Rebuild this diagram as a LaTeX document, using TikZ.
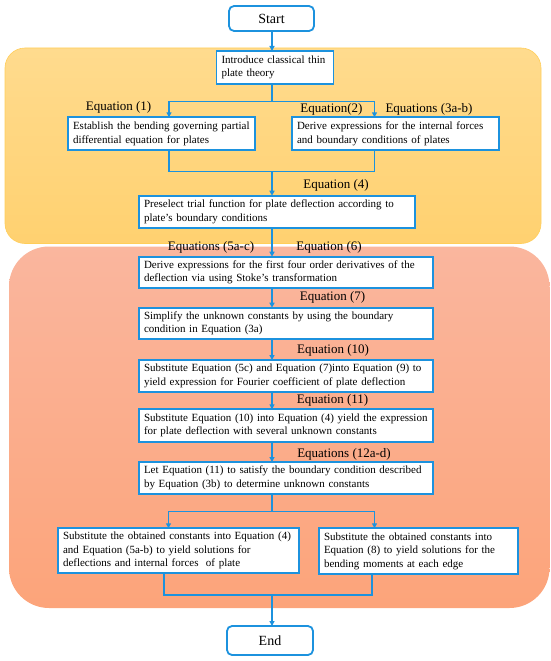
\documentclass[tikz,border=0pt]{standalone}
\usepackage{fontspec}
\setmainfont{Liberation Serif}
\usetikzlibrary{arrows.meta}
\definecolor{flowblue}{RGB}{28,146,222}
\definecolor{yelA}{RGB}{255,219,142}
\definecolor{yelB}{RGB}{255,209,112}
\definecolor{yelLine}{RGB}{255,206,90}
\definecolor{orA}{RGB}{250,182,158}
\definecolor{orB}{RGB}{252,164,122}
\begin{document}
\begin{tikzpicture}[x=1pt,y=-1pt,
  box/.style={draw=flowblue, line width=1.8pt, fill=white, inner xsep=5pt, inner ysep=0pt,
    outer sep=0pt, align=left, anchor=north west, font=\rmfamily\fontsize{11}{13.5}\selectfont},
  term/.style={draw=flowblue, line width=1.8pt, fill=white, rounded corners=5pt,
    outer sep=0pt, anchor=north west, font=\rmfamily\fontsize{14}{16}\selectfont},
  eqlabel/.style={font=\rmfamily\fontsize{13}{15}\selectfont, inner sep=0pt},
  conn/.style={draw=flowblue, line width=1.5pt},
  arr/.style={conn, -{Triangle[length=5pt,width=5pt]}}]
\useasboundingbox (0,0) rectangle (550,661);
% background panels
\shade[top color=yelA, bottom color=yelB, draw=yelLine, line width=0.6pt, rounded corners=20pt]
  (5,48) rectangle (541,243.5);
\shade[top color=orA, bottom color=orB, rounded corners=40pt]
  (9,246.5) rectangle (549.5,608);
% axis
\coordinate (cx) at (272,0);
% nodes
\node[term, minimum width=85pt, minimum height=25pt] (start) at (229,6) {Start};
\node[box, minimum width=117pt, minimum height=33pt, text width=107pt] (intro) at (216.5,51)
  {Introduce classical thin\\plate theory};
\node[box, minimum width=187pt, minimum height=32.7pt, text width=177pt] (left) at (68,117.3)
  {Establish the bending governing partial\\differential equation for plates};
\node[box, minimum width=207pt, minimum height=32.7pt, text width=197pt] (right) at (292,117.3)
  {Derive expressions for the internal forces\\and boundary conditions of plates};
\node[box, minimum width=276pt, minimum height=32pt, text width=266pt] (pre) at (139,195.7)
  {Preselect trial function for plate deflection according to\\plate's boundary conditions};
\node[box, minimum width=294pt, minimum height=31pt, text width=284pt] (derive) at (139,256.7)
  {Derive expressions for the first four order derivatives of the\\deflection via using Stoke's transformation};
\node[box, minimum width=294pt, minimum height=31.6pt, text width=284pt] (simp) at (139,307.7)
  {Simplify the unknown constants by using the boundary\\condition in Equation (3a)};
\node[box, minimum width=294pt, minimum height=31.7pt, text width=284pt] (sub1) at (139,360)
  {Substitute Equation (5c) and Equation (7)into Equation (9) to\\yield expression for Fourier coefficient of plate deflection};
\node[box, minimum width=294pt, minimum height=32.4pt, text width=284pt] (sub2) at (139,409.3)
  {Substitute Equation (10) into Equation (4) yield the expression\\for plate deflection with several unknown constants};
\node[box, minimum width=294pt, minimum height=32pt, text width=284pt] (let) at (139,462)
  {Let Equation (11) to satisfy the boundary condition described\\by Equation (3b) to determine unknown constants};
\node[box, minimum width=241pt, minimum height=44.4pt, text width=231pt] (bl) at (58,528.3)
  {Substitute the obtained constants into Equation (4)\\and Equation (5a-b) to yield solutions for\\deflections and internal forces\ \ of plate};
\node[box, minimum width=199pt, minimum height=45.7pt, text width=189pt] (br) at (319,528.3)
  {Substitute the obtained constants into\\Equation (8) to yield solutions for the\\bending moments at each edge};
\node[term, minimum width=86pt, minimum height=29pt] (end) at (227,626) {End};
% labels
\node[eqlabel] (l1) at (118.6,107.3) {Equation (1)};
\node[eqlabel] (l2) at (331.5,109.3) {Equation(2)};
\node[eqlabel] (l3) at (429,109.3) {Equations (3a-b)};
\node[eqlabel] (l4) at (336,185) {Equation (4)};
\node[eqlabel] (l5) at (211,247.3) {Equations (5a-c)};
\node[eqlabel] (l6) at (329,247.3) {Equation (6)};
\node[eqlabel] (l7) at (332.5,297.3) {Equation (7)};
\node[eqlabel] (l10) at (333,350.7) {Equation (10)};
\node[eqlabel] (l11) at (332.5,400.7) {Equation (11)};
\node[eqlabel] (l12) at (344,454) {Equations (12a-d)};
% junction points
\coordinate (j1) at (272,101.7);
\coordinate (j2) at (272,171.7);
\coordinate (j3) at (272,511.7);
\coordinate (j4) at (272,595);
% connectors
\draw[arr] (start.south -| cx) -- (intro.north -| cx);
\draw[conn] (intro.south -| cx) -- (j1);
\draw[arr] (j1) -| ([xshift=7.5pt]left.north);
\draw[arr] (j1) -| ([xshift=-21pt]right.north);
\draw[conn] ([xshift=7.5pt]left.south) |- (j2) -| ([xshift=-21pt]right.south);
\draw[arr] (j2) -- (pre.north -| cx);
\draw[arr] (pre.south -| cx) -- (derive.north -| cx);
\draw[arr] (derive.south -| cx) -- (simp.north -| cx);
\draw[arr] (simp.south -| cx) -- (sub1.north -| cx);
\draw[arr] (sub1.south -| cx) -- (sub2.north -| cx);
\draw[arr] (sub2.south -| cx) -- (let.north -| cx);
\draw[conn] (let.south -| cx) -- (j3);
\draw[arr] (j3) -| ([xshift=-10pt]bl.north);
\draw[arr] (j3) -| ([xshift=-44pt]br.north);
\draw[conn] ([xshift=-14.5pt]bl.south) |- (j4) -| ([xshift=-46.5pt]br.south);
\draw[arr] (j4) -- (end.north -| cx);
\end{tikzpicture}
\end{document}
